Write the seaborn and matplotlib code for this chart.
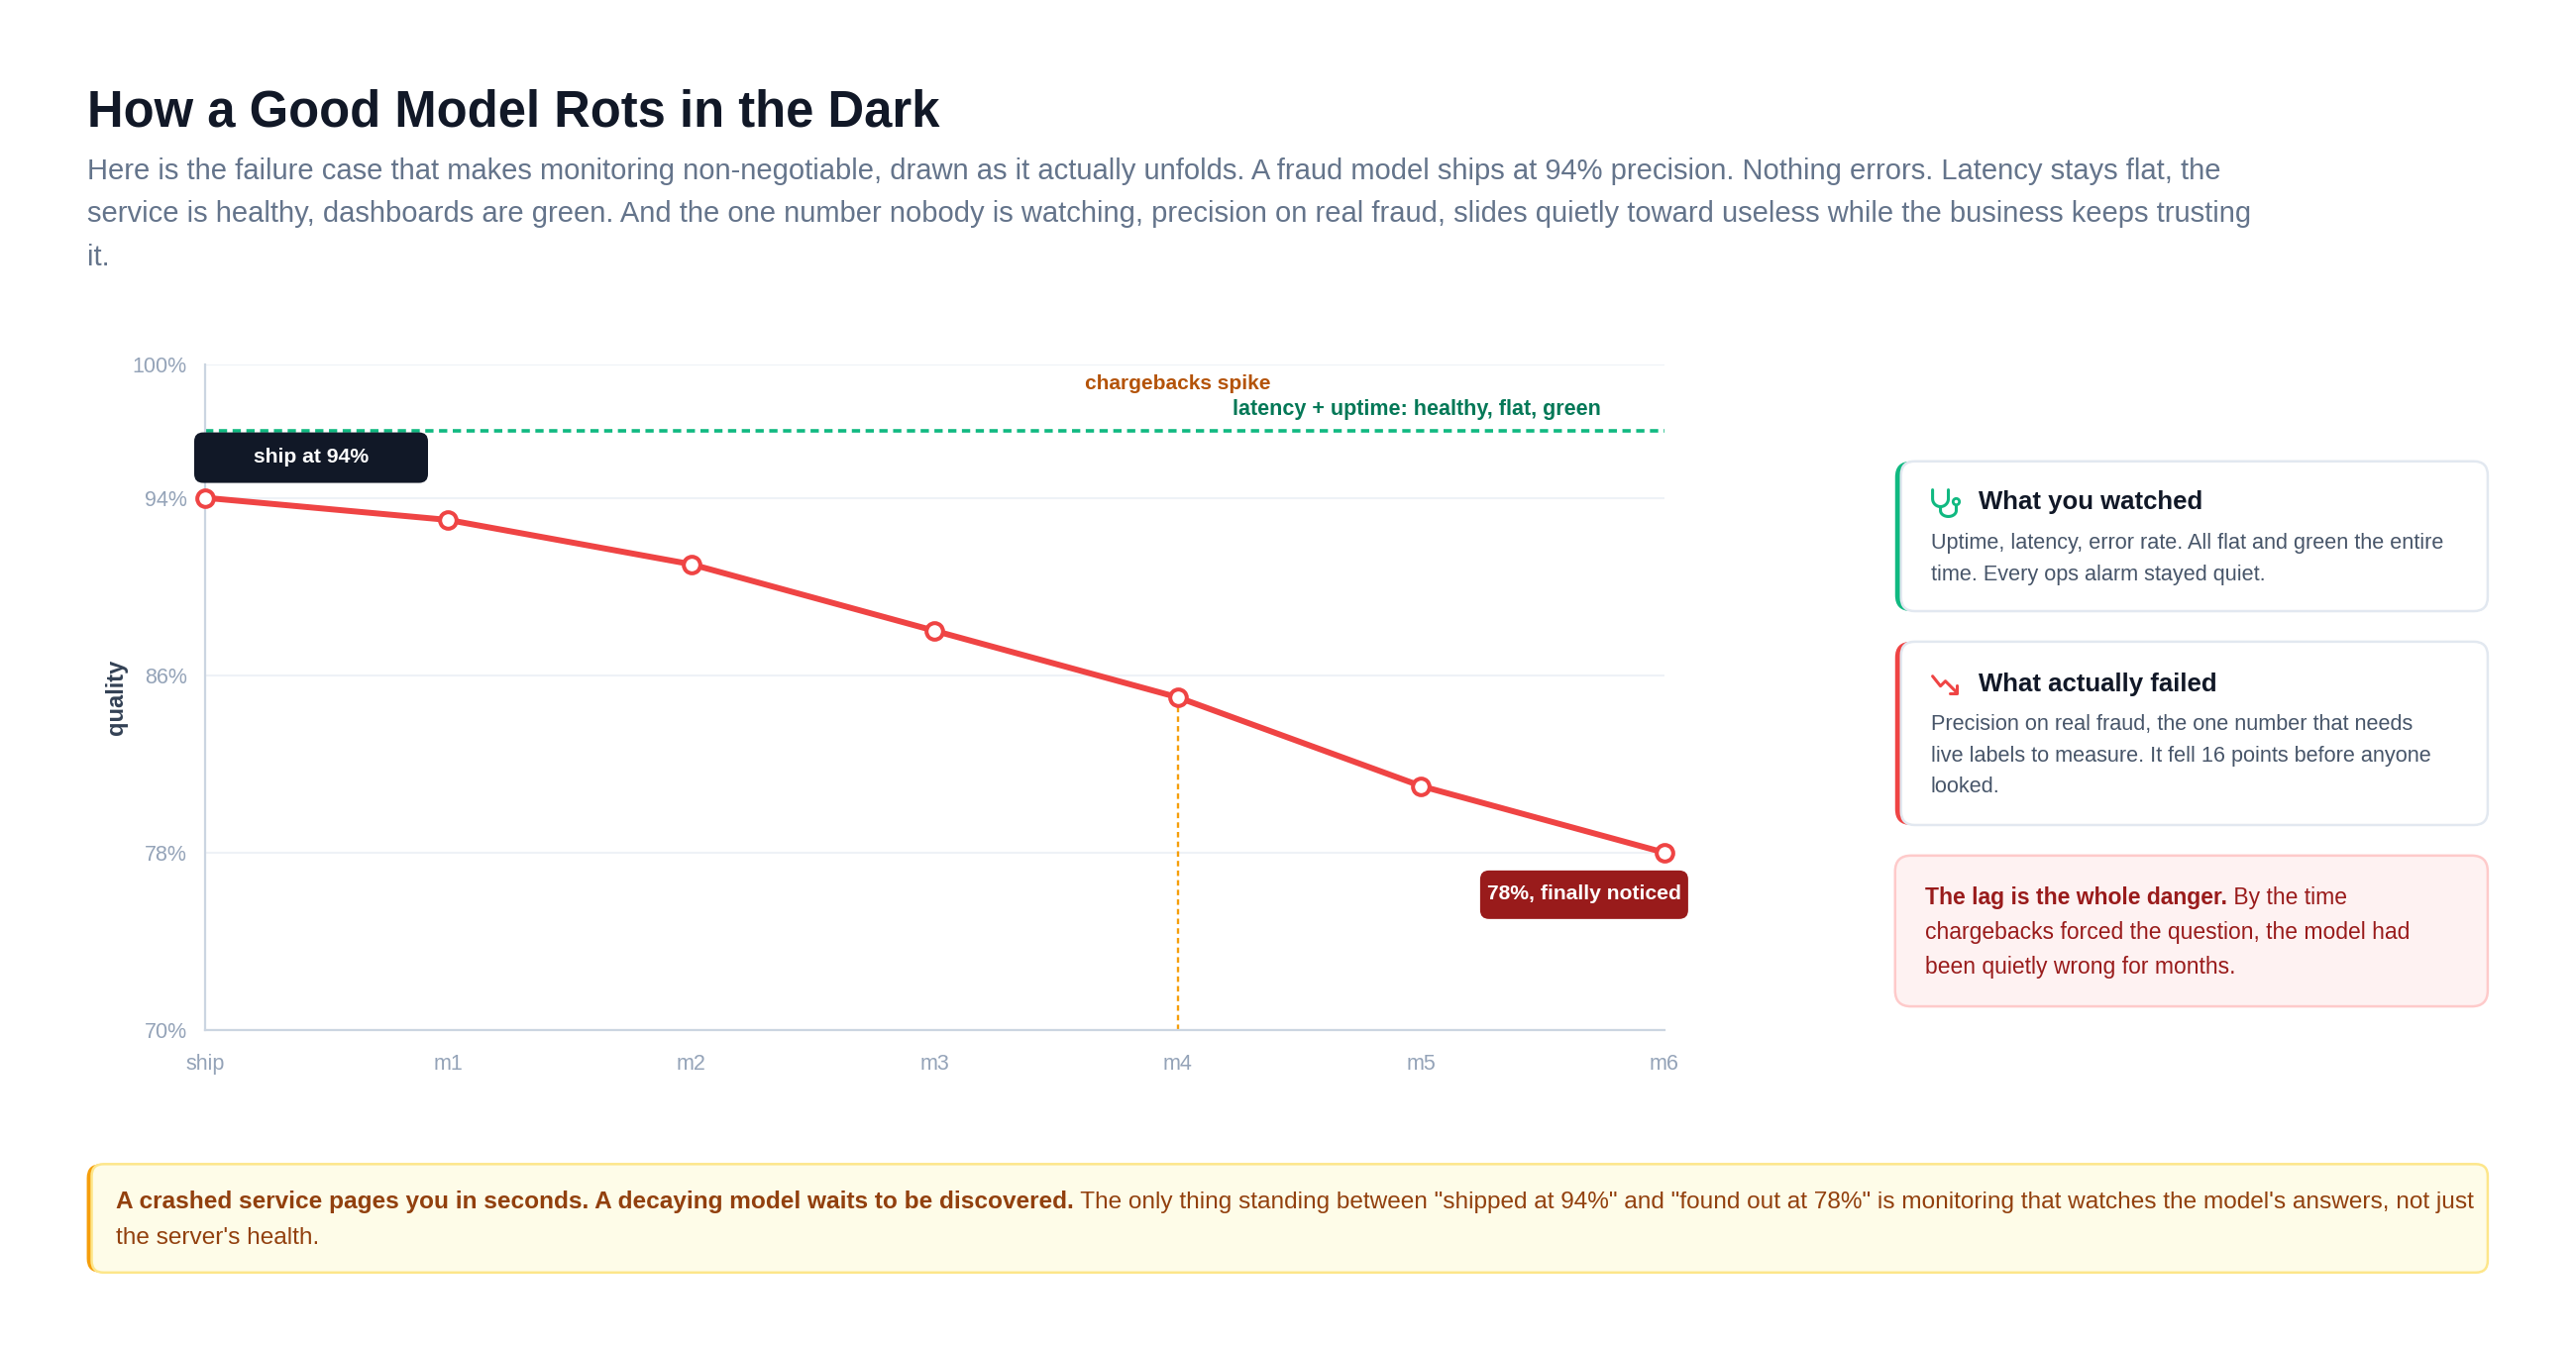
import matplotlib
matplotlib.use("Agg")
import matplotlib.pyplot as plt
import matplotlib.transforms as mtransforms
from matplotlib.patches import FancyBboxPatch, Circle
from matplotlib.lines import Line2D
from matplotlib.text import Annotation
import seaborn as sns
import pandas as pd
import numpy as np

# 数据
months = ["ship", "m1", "m2", "m3", "m4", "m5", "m6"]
quality = [94, 93, 91, 88, 85, 81, 78]
ops_health = 97          # latency + uptime 水平线
spike_month = "m4"       # chargebacks spike
y_ticks = [70, 78, 86, 94, 100]

title = "How a Good Model Rots in the Dark"
subtitle = [
    "Here is the failure case that makes monitoring non-negotiable, drawn as it actually unfolds. A fraud model ships at 94% precision. Nothing errors. Latency stays flat, the",
    "service is healthy, dashboards are green. And the one number nobody is watching, precision on real fraud, slides quietly toward useless while the business keeps trusting",
    "it.",
]

W, H = 2600, 1360
K = 0.9952  # 参考图坐标的缩放修正
RED = "#ef4444"
GREEN = "#10b981"
AMBER = "#f59e0b"

sns.set_theme(style="white")
plt.rcParams['font.family'] = ['Liberation Sans', 'DejaVu Sans']
plt.rcParams['lines.scale_dashes'] = False

fig = plt.figure(figsize=(W / 100, H / 100), dpi=100)
fig.patch.set_facecolor("white")
ID = mtransforms.IdentityTransform()


def fx(x):
    return x * K / W


def fy(y):
    return 1 - y * K / H


def box(x0, y0, x1, y1, fc, ec, lw=1.5, r=16, z=1, scale=True):
    k = K if scale else 1
    p = FancyBboxPatch((x0 * k, H - y1 * k), (x1 - x0) * k, (y1 - y0) * k,
                       boxstyle=f"round,pad=0,rounding_size={r}",
                       fc=fc, ec=ec, lw=lw, transform=ID, zorder=z)
    fig.add_artist(p)
    return p


def rich(x, y, bold, rest, size, color):
    t = fig.text(fx(x), fy(y), bold, fontsize=size, fontweight="bold",
                 color=color, ha="left", va="center")
    if rest:
        a = Annotation(rest, xy=(1, 0), xycoords=t, fontsize=size,
                       color=color, ha="left", va="bottom")
        fig.add_artist(a)


# 标题
fig.text(fx(88), fy(115), title, fontsize=36.5, fontweight="bold",
         color="#111827", ha="left", va="center")
for i, line in enumerate(subtitle):
    fig.text(fx(88), fy(174 + i * 43.5), line, fontsize=20.95, color="#64748b",
             ha="left", va="center")

# 主图
ax = fig.add_axes([fx(208), fy(1045), fx(1688 - 208), (1045 - 370) * K / H])
df = pd.DataFrame({"idx": range(len(months)), "quality": quality})
ax.axhline(ops_health, color=GREEN, lw=2.6, dashes=(6, 4), zorder=2)
spike_i = months.index(spike_month)
ax.vlines(spike_i, 70, quality[spike_i], color=AMBER, lw=1.7,
          linestyles=(0, (4, 3)), zorder=2)
sns.lineplot(data=df, x="idx", y="quality", ax=ax, color=RED, lw=4.3,
             marker="o", markersize=12, markerfacecolor="white",
             markeredgecolor=RED, markeredgewidth=2.9, clip_on=False, zorder=4)

ax.set_xlim(0, len(months) - 1)
ax.set_ylim(70, 100)
ax.set_xticks(range(len(months)))
ax.set_xticklabels(months)
ax.set_yticks(y_ticks)
ax.set_yticklabels([f"{v}%" for v in y_ticks])
ax.tick_params(axis="both", length=0, labelsize=15.5, labelcolor="#94a3b8")
ax.tick_params(axis="y", pad=13)
ax.tick_params(axis="x", pad=17.5)
ax.grid(axis="y", color="#eef2f7", lw=1.5)
ax.set_axisbelow(True)
for s in ["top", "right"]:
    ax.spines[s].set_visible(False)
for s in ["left", "bottom"]:
    ax.spines[s].set_color("#cbd5e1")
    ax.spines[s].set_linewidth(1.6)
ax.set_xlabel("")
ax.set_ylabel("quality", fontsize=17, fontweight="bold", color="#334155")
ax.yaxis.set_label_coords(-0.053, 0.5)

ax.text(spike_i, 99.15, "chargebacks spike", ha="center", va="center",
        fontsize=15, fontweight="bold", color="#b45309")
ax.text(5.74, 98.0, "latency + uptime: healthy, flat, green", ha="right",
        va="center", fontsize=15.5, fontweight="bold", color="#047857")

# 数据点标签框
fig.canvas.draw()
px0, py0 = ax.transData.transform((0, quality[0]))
box(px0 - 11, H - py0 - 66, px0 + 225, H - py0 - 15, "#111827", "none",
    lw=0, r=9, z=5, scale=False)
fig.text((px0 + 107) / W, (py0 + 41) / H, "ship at 94%", fontsize=15.2,
         fontweight="bold", color="white", ha="center", va="center", zorder=6)
px6, py6 = ax.transData.transform((len(months) - 1, quality[-1]))
box(px6 - 186, H - py6 + 18, px6 + 24, H - py6 + 67, "#991b1b", "none",
    lw=0, r=9, z=5, scale=False)
fig.text((px6 - 81) / W, (py6 - 42) / H, "78%, finally noticed",
         fontsize=15.2, fontweight="bold", color="white", ha="center",
         va="center", zorder=6)


# 右侧卡片
def card(y0, y1, accent):
    box(1922, y0, 2523, y1, accent, "none", lw=0, r=16, z=1)
    box(1928, y0, 2523, y1, "white", "#e2e8f0", lw=1.8, r=14, z=2)


card(468, 620, GREEN)
fig.text(fx(2007), fy(509), "What you watched", fontsize=18.5, fontweight="bold",
         color="#111827", ha="left", va="center")
for i, line in enumerate(["Uptime, latency, error rate. All flat and green the entire",
                          "time. Every ops alarm stayed quiet."]):
    fig.text(fx(1958), fy(551 + i * 32), line, fontsize=15.6, color="#475569",
             ha="left", va="center")

card(651, 837, RED)
fig.text(fx(2007), fy(694), "What actually failed", fontsize=18.5,
         fontweight="bold", color="#111827", ha="left", va="center")
for i, line in enumerate(["Precision on real fraud, the one number that needs",
                          "live labels to measure. It fell 16 points before anyone",
                          "looked."]):
    fig.text(fx(1958), fy(735 + i * 31.8), line, fontsize=15.6, color="#475569",
             ha="left", va="center")


# 图标
def pline(pts, color, lw=2.2):
    fig.add_artist(Line2D([p[0] * K for p in pts], [H - p[1] * K for p in pts],
                          color=color, lw=lw, transform=ID,
                          solid_capstyle="round", solid_joinstyle="round", zorder=3))


th = np.linspace(np.pi, 2 * np.pi, 20)
u = [(1960, 497)] + [(1968 + 8 * np.cos(t), 506 - 8 * np.sin(t)) for t in th] + [(1976, 497)]
pline(u, GREEN)
stem = [(1968, 514)] + [(1976 + 8 * np.cos(t), 518 - 6 * np.sin(t)) for t in th] + [(1984, 512)]
pline(stem, GREEN)
fig.add_artist(Circle((1984 * K, H - 509 * K), 3.2, fc="white", ec=GREEN, lw=2,
                      transform=ID, zorder=3))
pline([(1960, 686), (1968, 696), (1973, 691), (1985, 703)], RED)
pline([(1977, 703), (1985, 703), (1985, 695)], RED)

# 红色提示框
box(1922, 868, 2523, 1021, "#fef2f2", "#fecaca", lw=1.8, r=16, z=1)
rich(1952, 911, "The lag is the whole danger.", " By the time", 16.5, "#991b1b")
for i, line in enumerate(["chargebacks forced the question, the model had",
                          "been quietly wrong for months."]):
    fig.text(fx(1952), fy(946 + i * 35), line, fontsize=16.5, color="#991b1b",
             ha="left", va="center")

# 底部结论框
box(88, 1181, 2523, 1291, AMBER, "none", lw=0, r=14, z=1)
box(93, 1181, 2523, 1291, "#fefce8", "#fde68a", lw=1.8, r=12, z=2)
rich(118, 1219, "A crashed service pages you in seconds. A decaying model waits to be discovered.",
     ' The only thing standing between "shipped at 94%" and "found out at 78%" is monitoring that watches the model\'s answers, not just',
     17.6, "#92400e")
fig.text(fx(118), fy(1256), "the server's health.", fontsize=17.6,
         color="#92400e", ha="left", va="center")

fig.savefig("out.png", dpi=100, facecolor="white")
